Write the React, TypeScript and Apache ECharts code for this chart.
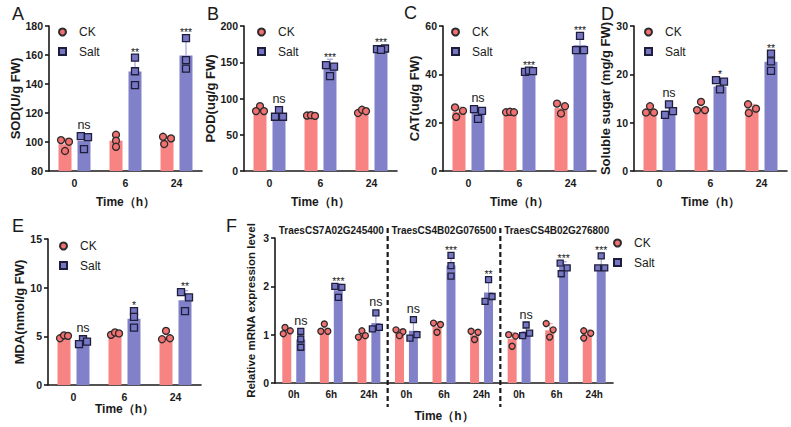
import React, { useEffect, useRef } from 'react';
import * as echarts from 'echarts';

// ---------------- data ----------------
const timeCats = ['0', '6', '24'];
const geneNames = ['TraesCS7A02G245400', 'TraesCS4B02G076500', 'TraesCS4B02G276800'];
const geneCats = ['0h', '6h', '24h', '0h', '6h', '24h', '0h', '6h', '24h'];

// A SOD
const sodCK = [98.4, 100.9, 101.5];
const sodSalt = [100.8, 148.7, 159.6];
const sodCKReps = [[101.3, 100.2, 93.8], [105.0, 100.9, 96.7], [103.6, 102.5, 98.6]];
const sodSaltReps = [[104.0, 103.4, 95.1], [158.2, 148.8, 139.2], [171.7, 156.4, 150.6]];
const sodSig = ['ns', '**', '***'];
// B POD
const podCK = [84, 76.5, 82];
const podSalt = [78, 146, 168.5];
const podCKReps = [[89.4, 82.6, 82.6], [76.5, 77, 76], [80, 84.5, 82.5]];
const podSaltReps = [[84, 74.8, 74.8], [146, 144, 131], [168, 169, 167]];
const podSig = ['ns', '***', '***'];
// C CAT
const catCK = [24.5, 24.4, 26];
const catSalt = [24, 41.3, 52];
const catCKReps = [[26.3, 24.9, 22.4], [24.3, 24.5, 24.3], [27.9, 26.8, 23.8]];
const catSaltReps = [[25.6, 24.9, 21.6], [41, 41.5, 41.3], [55.9, 50, 50]];
const catSig = ['ns', '***', '***'];
// D soluble sugar
const sugarCK = [12.4, 12.9, 12.9];
const sugarSalt = [12.5, 17.5, 22.6];
const sugarCKReps = [[13.4, 12.1, 12.1], [14.3, 12.6, 12.6], [13.8, 12.9, 12.0]];
const sugarSaltReps = [[13.8, 11.6, 12.4], [18.8, 18.5, 16.9], [24.3, 22.7, 20.7]];
const sugarSig = ['ns', '*', '**'];
// E MDA
const mdaCK = [4.95, 5.3, 4.9];
const mdaSalt = [4.45, 6.8, 8.7];
const mdaCKReps = [[4.8, 5.1, 5.05], [5.15, 5.4, 5.3], [5.56, 4.7, 4.8]];
const mdaSaltReps = [[4.7, 4.46, 4.2], [7.6, 7.0, 5.9], [9.54, 9.0, 7.6]];
const mdaSig = ['ns', '*', '**'];
// F relative expression
const geneCK = [1.07, 1.1, 1.0, 1.05, 1.17, 1.0, 0.91, 1.09, 1.02];
const geneSalt = [0.9, 1.92, 1.24, 1.08, 2.43, 1.87, 1.07, 2.4, 2.43];
const geneCKReps = [[1.15, 1.08, 1.02], [1.22, 1.07, 1.07], [1.08, 0.98, 0.95], [1.1, 1.06, 0.98], [1.24, 1.21, 1.05], [1.07, 1.05, 0.9], [1.0, 0.97, 0.76], [1.23, 1.1, 0.95], [1.08, 1.03, 0.93]];
const geneSaltReps = [[1.07, 0.91, 0.74], [2.0, 1.98, 1.77], [1.45, 1.15, 1.12], [1.31, 1.0, 0.93], [2.64, 2.43, 2.21], [2.14, 1.79, 1.69], [1.2, 1.03, 0.98], [2.48, 2.38, 2.26], [2.63, 2.38, 2.38]];
const geneSig = ['ns', '***', 'ns', 'ns', '***', '**', 'ns', '***', '***'];

// ---------------- style / layout ----------------
const FONT = '"Liberation Sans", Arial, Helvetica, sans-serif';
const INK = '#1a1a1a';
const CK_BAR = '#F88383';
const SALT_BAR = '#8181C9';
const CK_PT = '#F27070';
const SALT_PT = '#7676C2';
const CK_ERR = '#F6A3A3';
const SALT_ERR = '#A3A3DC';

type Panel = {
  letter: string; lx: number; ly: number;
  left: number; top: number; width: number; height: number;
  cats: string[]; min: number; max: number; interval: number;
  yName: string; yNameSize: number; yNameGap: number; xNameGap: number;
  ck: number[]; salt: number[]; ckReps: number[][]; saltReps: number[][]; sig: string[];
  ckJit: number[][]; saltJit: number[][];
  barW: number; barGap: string; half: number; unit: number; sym: number;
  legLeft: number; legTop: number; xLabelSize: number;
};

const topBase = { top: 26, height: 145, width: 153, cats: timeCats, barW: 13, barGap: '46%', half: 9.5, unit: 4, sym: 7, xLabelSize: 10.5, xNameGap: 25, yNameSize: 13 };

const panels: Panel[] = [
  { ...topBase, letter: 'A', lx: 12, ly: 5, left: 49, min: 80, max: 180, interval: 20, yName: 'SOD(U/g FW)', yNameGap: 26,
    ck: sodCK, salt: sodSalt, ckReps: sodCKReps, saltReps: sodSaltReps, sig: sodSig,
    ckJit: [[-1, 1, 0], [0, 0, 0], [-1, 1, -0.7]], saltJit: [[-0.8, 1, 0], [0, 0, 0], [0, 0, 0]], legLeft: 58, legTop: 26 },
  { ...topBase, letter: 'B', lx: 207, ly: 5, left: 244, min: 0, max: 200, interval: 50, yName: 'POD(ug/g FW)', yNameGap: 22,
    ck: podCK, salt: podSalt, ckReps: podCKReps, saltReps: podSaltReps, sig: podSig,
    ckJit: [[0, -1, 1], [-1, 0, 1], [-1, 0, 1]], saltJit: [[0, -1, 1], [-1, 1, 0], [-1, 1, 0]], legLeft: 257, legTop: 26 },
  { ...topBase, letter: 'C', lx: 404, ly: 4, left: 443, min: 0, max: 60, interval: 20, yName: 'CAT(ug/g FW)', yNameGap: 21,
    ck: catCK, salt: catSalt, ckReps: catCKReps, saltReps: catSaltReps, sig: catSig,
    ckJit: [[-1, 1, -0.7], [-1, 0, 1], [-1, 1, 0]], saltJit: [[-1, 1, 0], [-1, 0, 1], [0, -1, 1]], legLeft: 451, legTop: 26 },
  { ...topBase, letter: 'D', lx: 601, ly: 5, left: 634, min: 0, max: 30, interval: 10, yName: 'Soluble sugar (mg/g FW)', yNameGap: 19,
    ck: sugarCK, salt: sugarSalt, ckReps: sugarCKReps, saltReps: sugarSaltReps, sig: sugarSig,
    ckJit: [[0, -1, 1], [0, -1, 1], [-1, 1, -0.8]], saltJit: [[0, -1, 1], [-1, 1, 0], [0, 0, 0]], legLeft: 644, legTop: 26 },
  { ...topBase, letter: 'E', lx: 12, ly: 217, left: 48, top: 239, height: 146, min: 0, max: 15, interval: 5, yName: 'MDA(nmol/g FW)', yNameGap: 17, xNameGap: 16,
    ck: mdaCK, salt: mdaSalt, ckReps: mdaCKReps, saltReps: mdaSaltReps, sig: mdaSig,
    ckJit: [[-1, 0, 1], [-1, 0, 1], [0, -1, 1]], saltJit: [[0, 1, -1], [0, 0, 0], [-1, 1, 0]], legLeft: 59, legTop: 240 },
  { letter: 'F', lx: 226, ly: 217, left: 275, top: 238, width: 338, height: 145, cats: geneCats, min: 0, max: 3, interval: 1,
    yName: 'Relative mRNA expression level', yNameSize: 11.5, yNameGap: 18, xNameGap: 27,
    ck: geneCK, salt: geneSalt, ckReps: geneCKReps, saltReps: geneSaltReps, sig: geneSig,
    ckJit: [[-0.5, 1, -1], [0, -1, 1], [0, 1, -1], [-1, 1, 0], [-1, 1, 0], [-1, 1, 0], [-1, 1, 0], [-1, 1, 0], [-1, 1, -1]],
    saltJit: [[0, 0, 0], [-1, 1, 0], [0, 1, -1], [0, 1, -1], [0, 0, 0], [0, 1, -1], [0, 1, -1], [-1, 1, -0.7], [0, -1, 1]],
    barW: 9, barGap: '55%', half: 7, unit: 3.5, sym: 6, legLeft: 613, legTop: 237, xLabelSize: 10 },
];

function sd(a: number[]) {
  const m = a.reduce((s, v) => s + v, 0) / a.length;
  return Math.sqrt(a.reduce((s, v) => s + (v - m) * (v - m), 0) / (a.length - 1));
}

function buildOption() {
  const grid: any[] = [];
  const xAxis: any[] = [];
  const yAxis: any[] = [];
  const series: any[] = [];
  const legend: any[] = [];
  const title: any[] = [];

  panels.forEach((p, g) => {
    grid.push({ left: p.left, top: p.top, width: p.width, height: p.height, containLabel: false });
    xAxis.push({
      type: 'category', gridIndex: g, data: p.cats,
      name: 'Time（h）', nameLocation: 'middle', nameGap: p.xNameGap,
      nameTextStyle: { fontFamily: FONT, fontWeight: 'bold', fontSize: 12, color: INK },
      axisLine: { lineStyle: { color: INK, width: 1.6 } },
      axisTick: { alignWithLabel: true, length: 4, lineStyle: { color: INK, width: 1.6 } },
      axisLabel: { fontFamily: FONT, fontWeight: 'bold', fontSize: p.xLabelSize, color: INK, margin: 6, interval: 0 },
    });
    yAxis.push({
      type: 'value', gridIndex: g, min: p.min, max: p.max, interval: p.interval,
      name: p.yName, nameLocation: 'middle', nameGap: p.yNameGap,
      nameTextStyle: { fontFamily: FONT, fontWeight: 'bold', fontSize: p.yNameSize, color: INK },
      axisLine: { show: true, lineStyle: { color: INK, width: 1.6 } },
      axisTick: { show: true, length: 4, lineStyle: { color: INK, width: 1.6 } },
      axisLabel: { fontFamily: FONT, fontWeight: 'bold', fontSize: 10.5, color: INK, margin: 6 },
      splitLine: { show: false },
    });
    title.push({ text: p.letter, left: p.lx, top: p.ly, padding: 0, textStyle: { fontFamily: FONT, fontSize: 18, fontWeight: 'normal', color: INK } });
    legend.push({
      data: [{ name: 'CK', icon: 'circle' }, { name: 'Salt', icon: 'rect' }],
      orient: 'vertical', left: p.legLeft, top: p.legTop, padding: 0, itemWidth: 7, itemHeight: 7, itemGap: 7.5,
      selectedMode: false,
      textStyle: { fontFamily: FONT, fontSize: 12, color: INK, padding: [0, 0, 0, 8] },
    });

    // bars
    series.push({ type: 'bar', name: 'CK mean', xAxisIndex: g, yAxisIndex: g, data: p.ck, barWidth: p.barW, barGap: p.barGap, itemStyle: { color: CK_BAR }, z: 1, silent: true });
    series.push({ type: 'bar', name: 'Salt mean', xAxisIndex: g, yAxisIndex: g, data: p.salt, barWidth: p.barW, barGap: p.barGap, itemStyle: { color: SALT_BAR }, z: 1, silent: true });

    // error bars (upper half; lower half hidden by bar)
    const err = (means: number[], reps: number[][], side: number, color: string) => ({
      type: 'custom', name: side < 0 ? 'CK sd' : 'Salt sd', xAxisIndex: g, yAxisIndex: g, clip: false, z: 2, silent: true,
      data: means.map((m, i) => [i, m, m + sd(reps[i])]),
      renderItem: (_params: any, api: any) => {
        const c = api.value(0);
        const a = api.coord([c, api.value(1)]);
        const b = api.coord([c, api.value(2)]);
        const x = a[0] + side * p.half;
        return {
          type: 'group', children: [
            { type: 'line', shape: { x1: x, y1: a[1], x2: x, y2: b[1] }, style: { stroke: color, lineWidth: 1.2 } },
            { type: 'line', shape: { x1: x - 3, y1: b[1], x2: x + 3, y2: b[1] }, style: { stroke: color, lineWidth: 1.2 } },
          ],
        };
      },
    });
    series.push(err(p.ck, p.ckReps, -1, CK_ERR));
    series.push(err(p.salt, p.saltReps, 1, SALT_ERR));

    // replicate points
    const pts = (reps: number[][], jit: number[][], side: number) => {
      const out: any[] = [];
      reps.forEach((r, i) => r.forEach((v, k) => out.push({ value: [i, v], symbolOffset: [side * p.half + jit[i][k] * p.unit, 0] })));
      return out;
    };
    series.push({
      type: 'scatter', name: 'CK', xAxisIndex: g, yAxisIndex: g, symbol: 'circle', symbolSize: p.sym, z: 4,
      itemStyle: { color: CK_PT, borderColor: '#2b2b2b', borderWidth: 1.3, opacity: 1 },
      data: pts(p.ckReps, p.ckJit, -1),
    });
    series.push({
      type: 'scatter', name: 'Salt', xAxisIndex: g, yAxisIndex: g, symbol: 'rect', symbolSize: p.sym, z: 4,
      itemStyle: { color: SALT_PT, borderColor: '#1e1e3c', borderWidth: 1.3, opacity: 1 },
      data: pts(p.saltReps, p.saltJit, 1),
    });

    // significance labels above Salt bars
    series.push({
      type: 'custom', name: 'sig', xAxisIndex: g, yAxisIndex: g, clip: false, z: 5, silent: true,
      data: p.salt.map((m, i) => [i, Math.max(...p.saltReps[i]), m + sd(p.saltReps[i])]),
      renderItem: (params: any, api: any) => {
        const c = api.value(0);
        const a = api.coord([c, api.value(1)]);
        const b = api.coord([c, api.value(2)]);
        const top = Math.min(a[1] - p.sym / 2, b[1]);
        const txt = p.sig[params.dataIndex];
        const star = txt !== 'ns';
        return {
          type: 'text', x: a[0] + p.half, y: star ? top + 3 : top - 1,
          style: { text: txt, align: 'center', verticalAlign: 'bottom', fontFamily: FONT, fontSize: star ? 10.5 : 12.5, fill: INK },
        };
      },
    });
  });

  // F: gene titles on a top category axis, dashed separators
  const fg = panels.length - 1;
  xAxis.push({
    type: 'category', gridIndex: fg, position: 'top', data: geneNames,
    axisLine: { show: false }, axisTick: { show: false },
    axisLabel: { fontFamily: FONT, fontWeight: 'bold', fontSize: 10, color: INK, margin: 3, interval: 0 },
  });
  series.push({
    type: 'custom', name: 'separators', xAxisIndex: fg, yAxisIndex: fg, clip: false, z: 6, silent: true,
    data: [[2, 3], [5, 6]],
    renderItem: (_params: any, api: any) => {
      const a = api.coord([api.value(0), 0]);
      const b = api.coord([api.value(1), 0]);
      const t = api.coord([0, 3]);
      const x = (a[0] + b[0]) / 2;
      return { type: 'line', shape: { x1: x, y1: t[1] - 10, x2: x, y2: a[1] + 24 }, style: { stroke: INK, lineWidth: 2.2, lineDash: [5, 3] } };
    },
  });

  return { animation: false, backgroundColor: '#ffffff', title, legend, grid, xAxis, yAxis, series };
}

export default function App() {
  const ref = useRef<HTMLDivElement>(null);
  useEffect(() => {
    if (!ref.current) return;
    const chart = echarts.init(ref.current, undefined, { renderer: 'svg' });
    chart.setOption(buildOption() as any);
    return () => chart.dispose();
  }, []);
  return <div ref={ref} style={{ position: 'fixed', left: 0, top: 0, width: 791, height: 427, background: '#fff' }} />;
}
